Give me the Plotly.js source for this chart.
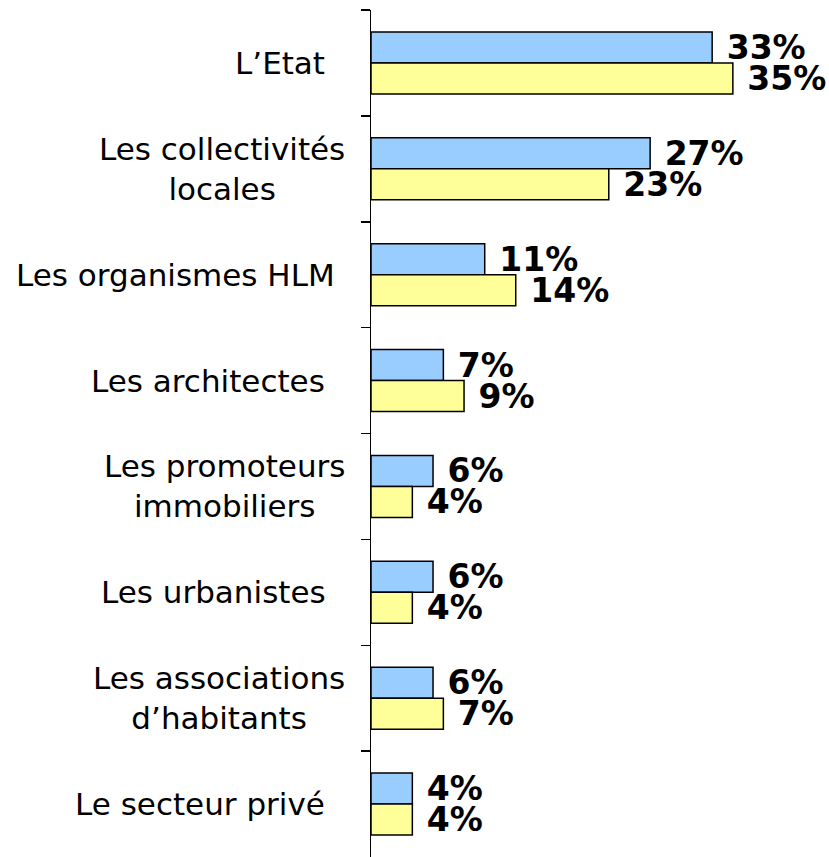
<!DOCTYPE html>
<html>
<head>
<meta charset="utf-8">
<script src="https://cdn.plot.ly/plotly-3.0.1.min.js"></script>
<style>html,body{margin:0;padding:0;background:#fff;}</style>
</head>
<body>
<div id="chart" style="width:829px;height:857px;"></div>
<script>
const categories = ["L\u2019Etat", "Les collectivités locales", "Les organismes HLM", "Les architectes",
  "Les promoteurs immobiliers", "Les urbanistes", "Les associations d\u2019habitants", "Le secteur privé"];
const labelText = ["L\u2019Etat\u00A0\u00A0", "Les collectivités<br>locales", "Les organismes HLM\u00A0", "Les architectes\u00A0\u00A0",
  "Les promoteurs<br>immobiliers", "Les urbanistes\u00A0\u00A0", "Les associations<br>d\u2019habitants", "Le secteur privé\u00A0\u00A0"];
const seriesBlue = [33, 27, 11, 7, 6, 6, 6, 4];
const seriesYellow = [35, 23, 14, 9, 4, 4, 7, 4];

const common = {
  type: 'bar', orientation: 'h', y: categories,
  texttemplate: '\u00A0%{x}%', textposition: 'outside', cliponaxis: false,
  constraintext: 'none',
  textfont: {family: 'DejaVu Sans', size: 33, color: '#000', weight: 'bold'},
  hoverinfo: 'none'
};
const traces = [
  Object.assign({}, common, {x: seriesBlue, name: 'A', marker: {color: '#99CCFF', line: {color: '#000', width: 1.5}}}),
  Object.assign({}, common, {x: seriesYellow, name: 'B', marker: {color: '#FFFF99', line: {color: '#000', width: 1.5}}})
];

const annotations = categories.map((c, i) => ({
  xref: 'paper', x: 0, yref: 'y', y: c, xanchor: 'right', yanchor: 'middle',
  xshift: -24, align: 'center', showarrow: false, text: labelText[i],
  font: {family: 'DejaVu Sans', size: 31, color: '#000'}
}));

const layout = {
  width: 829, height: 857,
  margin: {l: 371, r: 0, t: 10, b: 0},
  paper_bgcolor: '#fff', plot_bgcolor: '#fff',
  showlegend: false,
  barmode: 'group', bargap: 0.415, bargroupgap: 0,
  xaxis: {range: [0, 44.3], visible: false, fixedrange: true},
  yaxis: {type: 'category', range: [7.5, -0.5], showline: true, linecolor: '#000', linewidth: 1.5,
    ticks: 'outside', tickson: 'boundaries', ticklen: 9, tickwidth: 1.5, tickcolor: '#000',
    showticklabels: false, showgrid: false, zeroline: false, fixedrange: true},
  annotations: annotations
};
Plotly.newPlot('chart', traces, layout, {displayModeBar: false, staticPlot: true});
</script>
</body>
</html>
